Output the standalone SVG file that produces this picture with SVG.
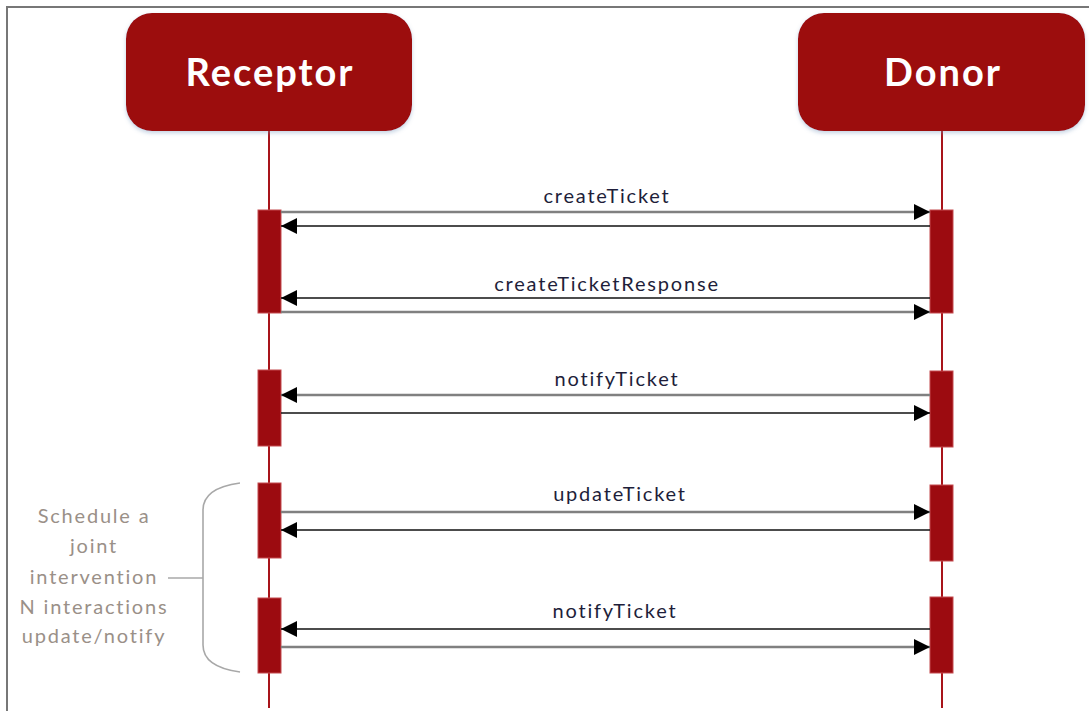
<svg xmlns="http://www.w3.org/2000/svg" width="1089" height="711" viewBox="0 0 1089 711">
<defs>
<style>
.head{fill:#9c0b10;}
.htxt{font-family:Lato,"Open Sans",sans-serif;font-weight:bold;font-size:38px;letter-spacing:2px;fill:#fff;text-anchor:middle;}
.life{stroke:#a8141a;stroke-width:2;fill:none;}
.act{fill:#9c0b10;stroke:#c44a4e;stroke-width:1;}
.msg{font-family:Lato,"Open Sans",sans-serif;font-size:20px;letter-spacing:1.8px;fill:#1e1e3a;text-anchor:middle;}
.g{stroke:#808080;stroke-width:2.5;fill:none;}
.b{stroke:#111;stroke-width:1.6;fill:none;}
.note{font-family:Lato,"Open Sans",sans-serif;font-size:20px;letter-spacing:1.8px;fill:#9a9088;text-anchor:middle;}
.brace{stroke:#a8a8a8;stroke-width:1.6;fill:none;}
</style>
<marker id="ah" viewBox="0 0 10 10" refX="10" refY="5" markerWidth="16" markerHeight="16" markerUnits="userSpaceOnUse" orient="auto">
<path d="M0,0 L10,5 L0,10 z" fill="#000"/>
</marker>
<filter id="sh" x="-10%" y="-10%" width="120%" height="125%">
<feDropShadow dx="0" dy="2" stdDeviation="2" flood-color="#7a9cc0" flood-opacity="0.45"/>
</filter>
</defs>
<rect width="1089" height="711" fill="#fff"/>
<path d="M7,711 V7 H1089" stroke="#777" stroke-width="2" fill="none"/>

<g id="receptor">
<line class="life" x1="269" y1="131" x2="269" y2="708"/>
<rect class="head" x="126" y="13" width="286" height="118" rx="26" filter="url(#sh)"/>
<text class="htxt" x="270" y="86">Receptor</text>
<rect class="act" x="258" y="210" width="23" height="103"/>
<rect class="act" x="258" y="370" width="23" height="76"/>
<rect class="act" x="258" y="483" width="23" height="75"/>
<rect class="act" x="258" y="598" width="23" height="75"/>
</g>

<g id="donor">
<line class="life" x1="942" y1="131" x2="942" y2="708"/>
<rect class="head" x="798" y="13" width="287" height="118" rx="26" filter="url(#sh)"/>
<text class="htxt" x="943" y="86">Donor</text>
<rect class="act" x="930" y="210" width="23" height="103"/>
<rect class="act" x="930" y="371" width="23" height="76"/>
<rect class="act" x="930" y="485" width="23" height="76"/>
<rect class="act" x="930" y="597" width="23" height="76"/>
</g>

<g id="connectors">
<line class="g" x1="281" y1="212" x2="930" y2="212" marker-end="url(#ah)"/>
<line class="b" x1="930" y1="226" x2="281" y2="226" marker-end="url(#ah)"/>
<line class="b" x1="930" y1="298" x2="281" y2="298" marker-end="url(#ah)"/>
<line class="g" x1="281" y1="312" x2="930" y2="312" marker-end="url(#ah)"/>

<line class="g" x1="930" y1="395" x2="281" y2="395" marker-end="url(#ah)"/>
<line class="b" x1="281" y1="413" x2="930" y2="413" marker-end="url(#ah)"/>

<line class="g" x1="281" y1="512" x2="930" y2="512" marker-end="url(#ah)"/>
<line class="b" x1="930" y1="530" x2="281" y2="530" marker-end="url(#ah)"/>

<line class="b" x1="930" y1="629" x2="281" y2="629" marker-end="url(#ah)"/>
<line class="g" x1="281" y1="647" x2="930" y2="647" marker-end="url(#ah)"/>
</g>

<g id="labels">
<text class="msg" x="607" y="203">createTicket</text>
<text class="msg" x="607" y="291">createTicketResponse</text>
<text class="msg" x="617" y="386">notifyTicket</text>
<text class="msg" x="620" y="501">updateTicket</text>
<text class="msg" x="615" y="618">notifyTicket</text>
</g>

<g id="note">
<path class="brace" d="M240,483 Q203,488 203,510 V645 Q203,667 240,672"/>
<line class="brace" x1="168" y1="578" x2="203" y2="578"/>
<text class="note" x="94" y="523">Schedule a</text>
<text class="note" x="94" y="553">joint</text>
<text class="note" x="94" y="584">intervention</text>
<text class="note" x="94" y="614">N interactions</text>
<text class="note" x="94" y="643">update/notify</text>
</g>
</svg>
